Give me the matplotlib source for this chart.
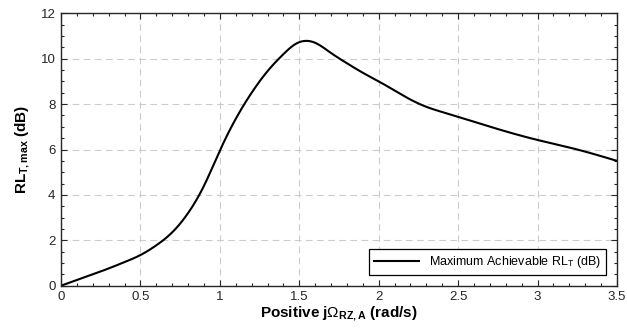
import numpy as np
import matplotlib
matplotlib.use("Agg")
import matplotlib.pyplot as plt
from matplotlib.ticker import MultipleLocator

plt.rcParams['font.family'] = ['Liberation Sans', 'DejaVu Sans']
plt.rcParams['mathtext.fontset'] = 'custom'
plt.rcParams['mathtext.rm'] = 'Liberation Sans'
plt.rcParams['mathtext.bf'] = 'Liberation Sans:bold'
plt.rcParams['mathtext.it'] = 'Liberation Serif'

omega = [0.0, 0.1, 0.2, 0.3, 0.4, 0.5, 0.6, 0.7, 0.8, 0.9, 1.0, 1.1, 1.2, 1.3,
         1.4, 1.47, 1.53, 1.6, 1.7, 1.8, 1.9, 2.0, 2.1, 2.2, 2.3, 2.4, 2.5,
         2.75, 3.0, 3.25, 3.5]
rl_max = [0.0, 0.25, 0.5, 0.76, 1.04, 1.35, 1.78, 2.35, 3.2, 4.4, 5.95, 7.35, 8.5,
          9.45, 10.2, 10.62, 10.78, 10.7, 10.25, 9.8, 9.38, 9.0, 8.6, 8.2, 7.88,
          7.65, 7.44, 6.9, 6.42, 6.0, 5.5]


def spline(x, y, xn):
    x = np.asarray(x, float); y = np.asarray(y, float)
    n = len(x); h = np.diff(x)
    A = np.zeros((n, n)); b = np.zeros(n)
    A[0, 0] = 1; A[-1, -1] = 1
    for i in range(1, n - 1):
        A[i, i-1] = h[i-1]; A[i, i] = 2*(h[i-1] + h[i]); A[i, i+1] = h[i]
        b[i] = 3*((y[i+1] - y[i])/h[i] - (y[i] - y[i-1])/h[i-1])
    c = np.linalg.solve(A, b)
    bb = (y[1:] - y[:-1])/h - h*(2*c[:-1] + c[1:])/3
    d = (c[1:] - c[:-1])/(3*h)
    idx = np.clip(np.searchsorted(x, xn) - 1, 0, n - 2)
    t = xn - x[idx]
    return y[idx] + bb[idx]*t + c[idx]*t**2 + d[idx]*t**3


xs = np.linspace(omega[0], omega[-1], 800)
ys = spline(omega, rl_max, xs)

fig = plt.figure(figsize=(6.27, 3.36), dpi=100)
ax = fig.add_axes([0.0973, 0.1497, 0.8867, 0.8107])
ax.plot(xs, ys, color='black', lw=1.5, label='Maximum Achievable RL$_\\mathrm{T}$ (dB)')

ax.set_xlim(0, 3.5)
ax.set_ylim(0, 12)
ax.xaxis.set_major_locator(MultipleLocator(0.5))
ax.xaxis.set_minor_locator(MultipleLocator(0.1))
ax.yaxis.set_major_locator(MultipleLocator(2))
ax.yaxis.set_minor_locator(MultipleLocator(0.5))
ax.set_xticks([0, 0.5, 1, 1.5, 2, 2.5, 3, 3.5])
ax.set_xticklabels(['0', '0.5', '1', '1.5', '2', '2.5', '3', '3.5'])
ax.tick_params(which='both', direction='in', top=True, right=True, labelsize=9.5,
               colors='#262626', labelcolor='#262626')
ax.tick_params(which='major', length=4, width=0.8, pad=4)
ax.tick_params(which='minor', length=2.5, width=0.8)
for s in ax.spines.values():
    s.set_color('#262626'); s.set_linewidth(1.0)
ax.grid(True, which='major', color='#cccccc', linestyle=(0, (6, 4)), lw=0.8)

ax.set_xlabel('Positive j$\\Omega_{\\mathbf{RZ,A}}$ (rad/s)', fontsize=11,
              fontweight='bold', labelpad=1)
ax.set_ylabel('RL$_{\\mathbf{T,max}}$ (dB)', fontsize=11, fontweight='bold',
              labelpad=6)

leg = ax.legend(loc='lower right', fontsize=9, frameon=True, fancybox=False,
                edgecolor='black', framealpha=1, borderaxespad=0.85,
                handlelength=3.6, borderpad=0.4)
leg.get_frame().set_linewidth(0.9)

fig.savefig('out.png', dpi=100)
